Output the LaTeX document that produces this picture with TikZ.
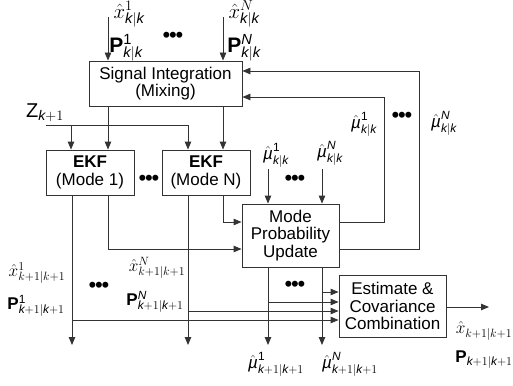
\documentclass[tikz,border=0pt]{standalone}
\usepackage{fontspec}
\setmainfont{Liberation Sans}
\usetikzlibrary{arrows.meta}
\newcommand{\mydots}{{\fontsize{22}{22}\selectfont •\kern-1.2pt•\kern-1.2pt•}}
\newcommand{\mmu}{\hat{\mbox{\itshape µ}}}
\begin{document}
\begin{tikzpicture}[x=1pt,y=-1pt,
 ln/.style={draw=black!80, line width=0.9pt},
 arr/.style={ln, -{Triangle[length=8pt,width=6.5pt]}},
 box/.style={draw=black!80, line width=0.9pt, align=center, inner sep=0pt, font=\fontsize{17}{17.5}\selectfont},
 lbl/.style={inner sep=0pt, font=\fontsize{17}{17}\selectfont},
 biglbl/.style={inner sep=0pt, font=\fontsize{21}{21}\selectfont},
]
\useasboundingbox (0,0) rectangle (513,385);
% boxes
\node[box, minimum width=153pt, minimum height=45pt] (si) at (165.5,83.5) {Signal Integration\\(Mixing)};
\node[box, minimum width=88pt, minimum height=45pt] (ekf1) at (90,172.5) {\textbf{EKF}\\(Mode 1)};
\node[box, minimum width=88pt, minimum height=45pt] (ekfn) at (206,172.5) {\textbf{EKF}\\(Mode N)};
\node[box, minimum width=97pt, minimum height=63pt] (mpu) at (290.5,235.5) {Mode\\Probability\\Update};
\node[box, minimum width=107pt, minimum height=62pt] (est) at (392.5,306) {Estimate \&\\Covariance\\Combination};
% coordinates
\coordinate (xi1) at (108,17);
\coordinate (xin) at (223,17);
\coordinate (z0) at (46,125);
\coordinate (z1) at (71,125);
\coordinate (zc) at (188,125);
\coordinate (e1a) at (72,345);
\coordinate (e1b) at (108,249);
\coordinate (ena) at (188,345);
\coordinate (enb) at (223,222);
\coordinate (h1) at (72,320);
\coordinate (h2) at (188,311);
\coordinate (m1) at (268,345);
\coordinate (m1b) at (268,302);
\coordinate (mn) at (322,345);
\coordinate (mnb) at (322,292);
\coordinate (u1) at (268,169);
\coordinate (un) at (322,169);
\coordinate (f1) at (384,222);
\coordinate (f1t) at (384,97);
\coordinate (f2) at (419,249);
\coordinate (f2t) at (419,71);
\coordinate (out) at (489,307);
% connectors
\draw[arr] (xi1) -- (xi1 |- si.north);
\draw[arr] (xin) -- (xin |- si.north);
\draw[arr] (si.south -| xi1) -- (ekf1.north -| xi1);
\draw[arr] (si.south -| xin) -- (ekfn.north -| xin);
\draw[arr] (z0) -- (zc) -- (ekfn.north -| zc);
\draw[arr] (z1) -- (ekf1.north -| z1);
\draw[arr] (ekf1.south -| e1a) -- (e1a);
\draw[arr] (ekf1.south -| e1b) -- (e1b) -- (mpu.west |- e1b);
\draw[arr] (ekfn.south -| ena) -- (ena);
\draw[arr] (ekfn.south -| enb) -- (enb) -- (mpu.west |- enb);
\draw[arr] (h1) -- (est.west |- h1);
\draw[arr] (h2) -- (est.west |- h2);
\draw[arr] (mpu.south -| m1) -- (m1);
\draw[arr] (m1b) -- (est.west |- m1b);
\draw[arr] (mpu.south -| mn) -- (mn);
\draw[arr] (mnb) -- (est.west |- mnb);
\draw[arr] (u1) -- (u1 |- mpu.north);
\draw[arr] (un) -- (un |- mpu.north);
\draw[arr] (mpu.east |- f1) -- (f1) -- (f1t) -- (si.east |- f1t);
\draw[arr] (mpu.east |- f2) -- (f2) -- (f2t) -- (si.east |- f2t);
\draw[arr] (est.east |- out) -- (out);
% labels
\node[biglbl] (lx1) at (129,14) {$\hat{x}^{1}_{\mathit{k|k}}$};
\node[biglbl] (lp1) at (126,48) {$\mathbf{P}^{\mathrm{1}}_{\mathit{k|k}}$};
\node[lbl] (d1) at (173,37) {\mydots};
\node[biglbl] (lxn) at (244,14) {$\hat{x}^{N}_{\mathit{k|k}}$};
\node[biglbl] (lpn) at (244,48) {$\mathbf{P}^{\mathit{N}}_{\mathit{k|k}}$};
\node[inner sep=0pt, font=\fontsize{20}{20}\selectfont] (lz) at (45,113) {Z$_{\mathit{k}+1}$};
\node[lbl] (d2) at (149,180) {\mydots};
\node[lbl] (lu1) at (276,155) {$\mmu^{\mathrm{1}}_{\mathit{k|k}}$};
\node[lbl] (lun) at (330,153) {$\mmu^{\mathit{N}}_{\mathit{k|k}}$};
\node[lbl] (d3) at (295,180) {\mydots};
\node[lbl] (lr1) at (364,124) {$\mmu^{\mathrm{1}}_{\mathit{k|k}}$};
\node[lbl] (d4) at (402,117) {\mydots};
\node[lbl] (lrn) at (444,123) {$\mmu^{\mathit{N}}_{\mathit{k|k}}$};
\node[lbl] (lx1b) at (37,273) {$\hat{x}^{1}_{k+1|k+1}$};
\node[lbl] (lp1b) at (36,306) {$\mathbf{P}^{\mathrm{1}}_{\mathit{k}+1|\mathit{k}+1}$};
\node[lbl] (d5) at (99,287) {\mydots};
\node[lbl] (lxnb) at (157,268) {$\hat{x}^{N}_{k+1|k+1}$};
\node[lbl] (lpnb) at (155,302) {$\mathbf{P}^{\mathit{N}}_{\mathit{k}+1|\mathit{k}+1}$};
\node[lbl] (d6) at (295,286) {\mydots};
\node[lbl] (lu1b) at (276,364) {$\mmu^{\mathrm{1}}_{\mathit{k}+1|\mathit{k}+1}$};
\node[lbl] (lunb) at (350,364) {$\mmu^{\mathit{N}}_{\mathit{k}+1|\mathit{k}+1}$};
\node[lbl] (lxo) at (484,331) {$\hat{x}_{k+1|k+1}$};
\node[lbl] (lpo) at (484,360) {$\mathbf{P}_{\mathit{k}+1|\mathit{k}+1}$};
\end{tikzpicture}
\end{document}
